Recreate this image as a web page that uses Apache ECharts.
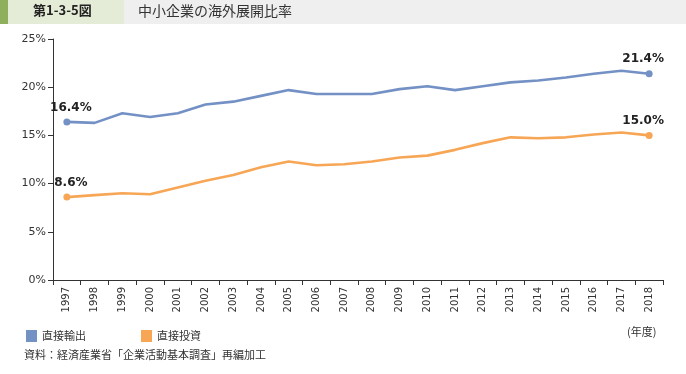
<!DOCTYPE html>
<html><head><meta charset="utf-8">
<script src="https://cdn.jsdelivr.net/npm/echarts@6/dist/echarts.min.js"></script>
<style>html,body{margin:0;padding:0;background:#fff}#c{width:686px;height:374px}</style>
</head><body><div id="c"></div>
<script>
const years = ['1997','1998','1999','2000','2001','2002','2003','2004','2005','2006','2007','2008','2009','2010','2011','2012','2013','2014','2015','2016','2017','2018'];
const exportRatio = [16.4,16.3,17.3,16.9,17.3,18.2,18.5,19.1,19.7,19.3,19.3,19.3,19.8,20.1,19.7,20.1,20.5,20.7,21.0,21.4,21.7,21.4];
const investRatio = [8.6,8.8,9.0,8.9,9.6,10.3,10.9,11.7,12.3,11.9,12.0,12.3,12.7,12.9,13.5,14.2,14.8,14.7,14.8,15.1,15.3,15.0];
const yTicks = [0,5,10,15,20,25];
const seriesNames = ['直接輸出','直接投資'];
const figNo = '第1-3-5図';
const title = '中小企業の海外展開比率';
const unitText = '(年度)';
const sourceText = '資料：経済産業省「企業活動基本調査」再編加工';

const numFont = 'DejaVu Sans';
const jpFont = '"Noto Sans CJK JP"';
const last = years.length - 1;

function endLabel(arr) {
  return arr.map((v, i) => {
    if (i === 0 || i === last) {
      return {
        value: v,
        symbol: 'circle', symbolSize: 7,
        label: {
          show: true, position: 'top', distance: 5,
          offset: i === 0 ? [4, 0] : [-6, 0],
          formatter: v.toFixed(1) + '%',
          fontFamily: numFont, fontWeight: 'bold', fontSize: 12, color: '#222'
        }
      };
    }
    return { value: v, symbol: 'none' };
  });
}

const chart = echarts.init(document.getElementById('c'), null, { renderer: 'canvas' });
chart.setOption({
  animation: false,
  grid: { left: 53, right: 23, top: 39, bottom: 94, containLabel: false },
  xAxis: {
    type: 'category', data: years, boundaryGap: true,
    axisLine: { lineStyle: { color: '#333', width: 1 } },
    axisTick: { show: true, length: 5, alignWithLabel: false, lineStyle: { color: '#333' } },
    axisLabel: { rotate: 90, interval: 0, fontFamily: numFont, fontSize: 10, color: '#333', margin: 7 }
  },
  yAxis: {
    type: 'value', min: 0, max: 25, interval: 5,
    axisLine: { show: true, lineStyle: { color: '#333', width: 1 } },
    axisTick: { show: true, length: 5, lineStyle: { color: '#333' } },
    splitLine: { show: false },
    axisLabel: { formatter: v => yTicks.includes(v) ? v + '%' : '', fontFamily: numFont, fontSize: 11, color: '#333', margin: 7 }
  },
  legend: {
    left: 26, top: 330, padding: 0, icon: 'rect', itemWidth: 11, itemHeight: 12, itemGap: 55,
    textStyle: { fontFamily: jpFont, fontSize: 11, color: '#333' },
    data: seriesNames
  },
  series: [
    { name: seriesNames[0], type: 'line', data: endLabel(exportRatio), color: '#7391c4',
      lineStyle: { width: 2.6, color: '#7391c4' }, itemStyle: { color: '#7391c4' }, showSymbol: true },
    { name: seriesNames[1], type: 'line', data: endLabel(investRatio), color: '#f7a656',
      lineStyle: { width: 2.6, color: '#f7a656' }, itemStyle: { color: '#f7a656' }, showSymbol: true }
  ],
  graphic: [
    { type: 'rect', shape: { x: 0, y: 0, width: 686, height: 24 }, style: { fill: '#efefef' }, silent: true },
    { type: 'rect', shape: { x: 0, y: 0, width: 124, height: 24 }, style: { fill: '#e4ebd6' }, silent: true },
    { type: 'rect', shape: { x: 0, y: 0, width: 8, height: 24 }, style: { fill: '#8eb05c' }, silent: true },
    { type: 'text', left: 33, top: 4, style: { text: figNo, fontFamily: jpFont, fontWeight: 'bold', fontSize: 13, fill: '#222' } },
    { type: 'text', left: 138, top: 4, style: { text: title, fontFamily: jpFont, fontSize: 14, fill: '#333' } },
    { type: 'text', left: 627, top: 326, style: { text: unitText, fontFamily: jpFont, fontSize: 11, fill: '#333' } },
    { type: 'text', left: 24, top: 349, style: { text: sourceText, fontFamily: jpFont, fontSize: 11, fill: '#333' } }
  ]
});
</script></body></html>
